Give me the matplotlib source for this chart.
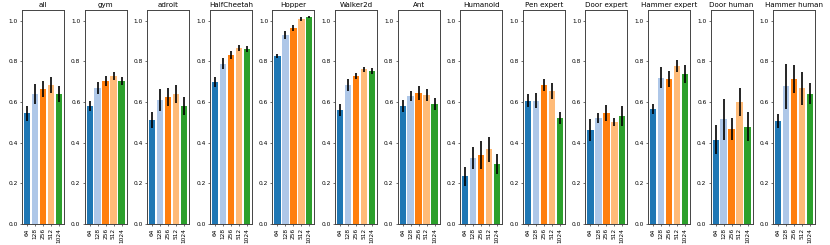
import numpy as np
import matplotlib
matplotlib.use("Agg")
from matplotlib import pyplot as plt

tasks = ["all", "gym", "adroit", "HalfCheetah", "Hopper", "Walker2d", "Ant",
         "Humanoid", "Pen expert", "Door expert", "Hammer expert",
         "Door human", "Hammer human"]
sizes = ["64", "128", "256", "512", "1024"]
colors = ["#1f77b4", "#aec7e8", "#ff7f0e", "#ffbb78", "#2ca02c"]

means = [
    [0.544, 0.638, 0.664, 0.684, 0.641],  # all
    [0.580, 0.670, 0.703, 0.728, 0.703],  # gym
    [0.511, 0.610, 0.625, 0.638, 0.580],  # adroit
    [0.700, 0.789, 0.831, 0.867, 0.859],  # HalfCheetah
    [0.826, 0.928, 0.964, 1.008, 1.018],  # Hopper
    [0.559, 0.684, 0.730, 0.761, 0.752],  # Walker2d
    [0.580, 0.630, 0.644, 0.634, 0.592],  # Ant
    [0.234, 0.325, 0.339, 0.367, 0.295],  # Humanoid
    [0.607, 0.607, 0.684, 0.654, 0.521],  # Pen expert
    [0.462, 0.523, 0.546, 0.502, 0.530],  # Door expert
    [0.566, 0.720, 0.713, 0.777, 0.738],  # Hammer expert
    [0.415, 0.515, 0.467, 0.600, 0.479],  # Door human
    [0.507, 0.677, 0.713, 0.667, 0.641],  # Hammer human
]
errors = [
    [0.036, 0.050, 0.040, 0.040, 0.040],
    [0.025, 0.030, 0.025, 0.020, 0.020],
    [0.040, 0.055, 0.045, 0.045, 0.045],
    [0.025, 0.025, 0.020, 0.015, 0.015],
    [0.010, 0.020, 0.015, 0.010, 0.007],
    [0.030, 0.030, 0.015, 0.012, 0.015],
    [0.030, 0.025, 0.035, 0.030, 0.030],
    [0.045, 0.055, 0.070, 0.060, 0.050],
    [0.030, 0.035, 0.030, 0.040, 0.030],
    [0.055, 0.025, 0.040, 0.020, 0.050],
    [0.025, 0.050, 0.040, 0.030, 0.045],
    [0.070, 0.100, 0.055, 0.070, 0.070],
    [0.035, 0.110, 0.070, 0.080, 0.050],
]

fig = plt.figure(figsize=(8.3, 2.45), dpi=100)
left0, width, step = 22 / 830, 42 / 830, 62.6 / 830
bottom, height = 1 - 224 / 245, (224 - 10.5) / 245

x = np.arange(len(sizes))
yt = np.arange(0, 1.01, 0.2)

for i, task in enumerate(tasks):
    ax = fig.add_axes([left0 + i * step, bottom, width, height])
    ax.bar(x, means[i], width=0.8, color=colors, yerr=errors[i],
           error_kw=dict(ecolor="black", elinewidth=1.2, capsize=0))
    ax.set_ylim(0, 1.05)
    ax.set_xticks(x)
    ax.set_xticklabels(sizes, rotation=90, fontsize=4.25)
    ax.set_yticks(yt)
    ax.set_yticklabels([f"{v:.1f}" for v in yt], fontsize=4.25)
    ax.tick_params(length=1.5, width=0.4, pad=1.5)
    ax.set_title(task, fontsize=5.1, pad=2.5)
    for s in ax.spines.values():
        s.set_linewidth(0.7)
        s.set_color("#444444")

plt.savefig("out.png", dpi=100)
